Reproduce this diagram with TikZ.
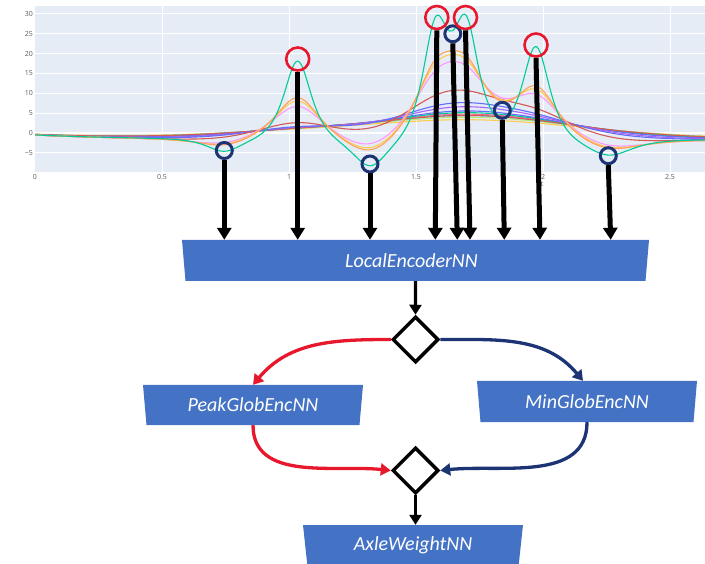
\documentclass[tikz,border=0pt]{standalone}
\usepackage{fontspec}
\usetikzlibrary{arrows.meta,shapes.geometric,calc}
\newfontfamily\plotfont{Open Sans}
\newfontfamily\boxfont{Carlito}
\definecolor{plotbg}{HTML}{E5ECF6}
\definecolor{ticktext}{HTML}{5A5A5A}
\definecolor{encblue}{HTML}{4472C4}
\definecolor{peakred}{HTML}{E8182C}
\definecolor{minnavy}{HTML}{1C3473}
\definecolor{pyteal}{HTML}{00CC96}
\definecolor{pyorange}{HTML}{FFA15A}
\definecolor{pyyellow}{HTML}{FECB52}
\definecolor{pypink}{HTML}{FF97FF}
\definecolor{pyrose}{HTML}{FF6692}
\definecolor{pyred}{HTML}{D45A55}
\definecolor{pyblue}{HTML}{636EFA}
\definecolor{pypurple}{HTML}{AB63FA}
\definecolor{pycyan}{HTML}{19D3F3}
\definecolor{pylime}{HTML}{B6E880}
\begin{document}
\begin{tikzpicture}[x=1pt,y=-1pt,
  declare function={
    sch(\zz)=2/(exp(min(abs(\zz),9))+exp(-min(abs(\zz),9)));
    pk(\tv,\ampl,\ctr,\wid,\blr)=\ampl*((\wid/(\wid+\blr))^1.2)*sch((\tv-\ctr)/(\wid+\blr));
    sig(\tv,\blr)=pk(\tv,19.9,1.034,0.047,\blr)+pk(\tv,27.4,1.578,0.045,\blr)
      +pk(\tv,27.4,1.697,0.045,\blr)+pk(\tv,23.6,1.972,0.047,\blr)
      +pk(\tv,-3.2,0.745,0.06,\blr)+pk(\tv,-6.9,1.32,0.06,\blr)
      +pk(\tv,-4.0,2.26,0.08,\blr)-0.5-1.2*(1-exp(-\tv/0.4));
  },
  ticklab/.style={font=\plotfont\fontsize{7}{8}\selectfont, text=ticktext, inner sep=0pt},
  trace/.style={line width=1.1pt, line join=round},
  pkring/.style={circle, draw=peakred, line width=2.6pt, minimum size=23pt, inner sep=0pt},
  mnring/.style={circle, draw=minnavy, line width=3pt, minimum size=16pt, inner sep=0pt},
  feed/.style={line width=5pt, -{Triangle[length=12pt,width=14pt]}},
  encbox/.style={trapezium, trapezium angle=76, shape border rotate=180,
    trapezium stretches body, fill=encblue, text=white, inner sep=0pt,
    font=\boxfont\itshape\fontsize{20}{24}\selectfont},
  gate/.style={diamond, draw=black, fill=white, line width=3.5pt, inner sep=0pt,
    minimum width=46pt, minimum height=46pt},
  flow/.style={line width=3.3pt, -{Triangle[length=10pt,width=12pt]}},
  redflow/.style={draw=peakred, line width=3.3pt, -{Triangle[length=10pt,width=12pt]}},
  navyflow/.style={draw=minnavy, line width=3.3pt, -{Triangle[length=10pt,width=12pt]}}
]
\useasboundingbox (0,0) rectangle (705,564);

% plot panel and grid
\fill[plotbg] (35,6) rectangle (705,172);
\foreach \v in {-5,5,10,15,20,25,30}
  \draw[white, line width=0.8pt] (35,{133-3.97*\v}) -- (705,{133-3.97*\v});
\draw[white, line width=1.8pt] (35,133) -- (705,133);
\foreach \tk in {0.5,1,1.5,2,2.5}
  \draw[white, line width=0.8pt] ({35+254*\tk},6) -- ({35+254*\tk},172);

% tick labels
\foreach \v/\lab in {30/30,25/25,20/20,15/15,10/10,5/5,0/0,-5/\char"2212 5}
  \node[ticklab, anchor=east] at (33,{133-3.97*\v}) {\lab};
\foreach \tk/\lab in {0/0,0.5/0.5,1/1,1.5/1.5,2/2,2.5/2.5}
  \node[ticklab] at ({35+254*\tk},177) {\lab};
\node[ticklab] (xtitle) at (542,184) {t};

% signal traces
\begin{scope}
  \clip (35,6) rectangle (705,172);
  \foreach \col/\bl in {pyyellow/0.36, pylime/0.32, pycyan/0.30, pyrose/0.28,
      pyteal/0.26, pyblue/0.24, pyred/0.30, pypurple/0.20, pyblue/0.17,
      pyred/0.11, pypink/0.045, pyyellow/0.035, pyorange/0.03, pyteal/0}
    \draw[trace, \col] plot[domain=0:2.64, samples=200, smooth]
      ({35+254*\x},{133-3.97*sig(\x,\bl)});
\end{scope}

% extrema markers
\node[mnring] (m1) at (224.3,150.5) {};
\node[pkring] (p1) at (297.7,59) {};
\node[mnring] (m2) at (370,164) {};
\node[pkring] (p2) at (436.8,17.5) {};
\node[mnring] (m3) at (452.8,33.8) {};
\node[pkring] (p3) at (465.5,17.5) {};
\node[mnring] (m4) at (502.3,110.3) {};
\node[pkring] (p4) at (536,45) {};
\node[mnring] (m5) at (608.3,155.7) {};

% network blocks
\node[encbox, minimum width=467pt, minimum height=41pt] (enc) at (415.5,260.5) {\hspace*{-8pt}LocalEncoderNN};
\node[encbox, minimum width=220pt, minimum height=40pt] (pg) at (253,405) {PeakGlobEncNN};
\node[encbox, minimum width=220pt, minimum height=41pt] (mg) at (587,401.5) {MinGlobEncNN};
\node[encbox, minimum width=220pt, minimum height=40pt] (aw) at (413,545) {AxleWeightNN};
\node[gate] (d1) at (415.5,339.5) {};
\node[gate] (d2) at (415.5,470.5) {};

% feeds from the markers into the local encoder
\draw[feed] (m1.south) -- (m1.south |- enc.north);
\draw[feed] (p1.south) -- (p1.south |- enc.north);
\draw[feed] (m2.south) -- (m2.south |- enc.north);
\draw[feed] (p2.south) -- ([xshift=-1.5pt]p2.south |- enc.north);
\draw[feed] (m3.south) -- ([xshift=4.5pt]m3.south |- enc.north);
\draw[feed] (p3.south) -- ([xshift=4.5pt]p3.south |- enc.north);
\draw[feed] (m4.south) -- ([xshift=2pt]m4.south |- enc.north);
\draw[feed] (p4.south) -- ([xshift=4pt]p4.south |- enc.north);
\draw[feed] (m5.south) -- ([xshift=2.4pt]m5.south |- enc.north);

% flow between the blocks
\draw[flow] (enc.south) -- (d1.north);
\draw[redflow] (d1.west) to[out=180, in=50] (pg.north);
\draw[navyflow] (d1.east) to[out=0, in=130] ([xshift=-4pt]mg.north);
\draw[redflow] (pg.south) to[out=-90, in=174] (d2.west);
\draw[navyflow] (mg.south) to[out=-90, in=6] (d2.east);
\draw[flow] (d2.south) -- (d2.south |- aw.north);
\end{tikzpicture}
\end{document}
